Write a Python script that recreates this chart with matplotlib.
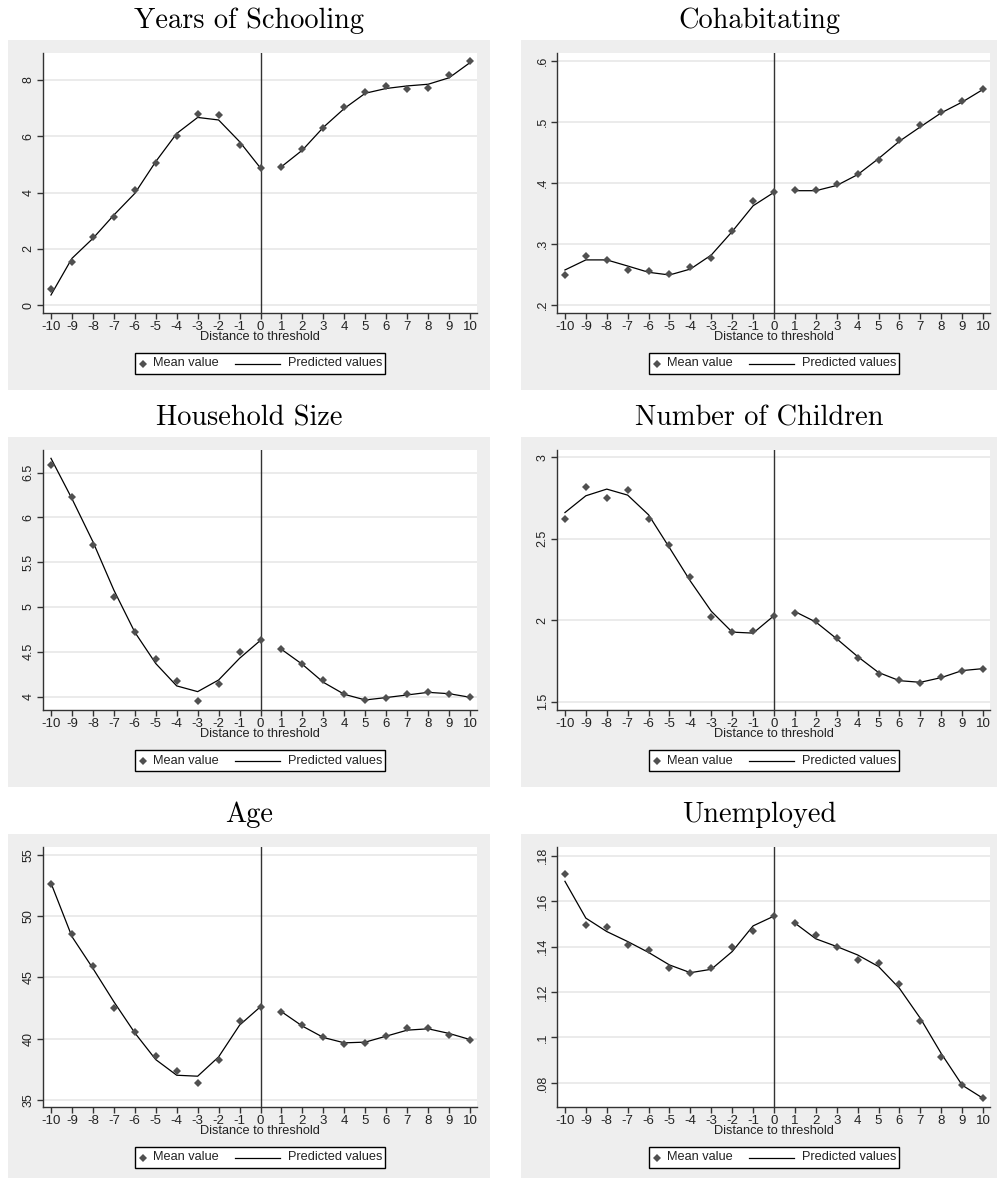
import numpy as np
import matplotlib
matplotlib.use("Agg")
import matplotlib.pyplot as plt
from matplotlib.patches import Rectangle
from matplotlib.lines import Line2D

plt.rcParams["font.family"] = ["Liberation Sans", "DejaVu Sans"]
plt.rcParams["axes.unicode_minus"] = False

# Distance to threshold
dist = list(range(-10, 11))

# Mean values (bins) and predicted values
school_mean = [0.56, 1.54, 2.41, 3.14, 4.08, 5.06, 6.00, 6.79, 6.76, 5.70, 4.87,
               4.91, 5.56, 6.28, 7.04, 7.59, 7.80, 7.68, 7.72, 8.17, 8.66]
school_pred = [0.36, 1.66, 2.37, 3.20, 3.97, 5.10, 6.10, 6.67, 6.58, 5.81, 4.87,
               4.92, 5.51, 6.32, 6.99, 7.53, 7.70, 7.79, 7.85, 8.08, 8.62]

cohab_mean = [0.249, 0.281, 0.2745, 0.2575, 0.256, 0.2515, 0.2625, 0.2767, 0.3216, 0.370, 0.3847,
              0.388, 0.388, 0.398, 0.4148, 0.437, 0.470, 0.4953, 0.5156, 0.5337, 0.5534]
cohab_pred = [0.2575, 0.274, 0.274, 0.264, 0.2537, 0.2493, 0.259, 0.282, 0.3205, 0.3627, 0.3847,
              0.3874, 0.3874, 0.396, 0.4137, 0.440, 0.4685, 0.492, 0.515, 0.5326, 0.5534]

hh_mean = [6.586, 6.228, 5.696, 5.116, 4.718, 4.424, 4.175, 3.948, 4.145, 4.502, 4.629,
           4.528, 4.368, 4.182, 4.030, 3.960, 3.990, 4.026, 4.048, 4.030, 3.993]
hh_pred = [6.66, 6.21, 5.73, 5.19, 4.72, 4.37, 4.12, 4.056, 4.186, 4.428, 4.629,
           4.528, 4.360, 4.160, 4.026, 3.963, 3.990, 4.019, 4.048, 4.033, 3.993]

kids_mean = [2.624, 2.819, 2.749, 2.800, 2.620, 2.460, 2.266, 2.022, 1.929, 1.936, 2.028,
             2.047, 1.997, 1.890, 1.771, 1.673, 1.632, 1.615, 1.652, 1.691, 1.703]
kids_pred = [2.661, 2.764, 2.805, 2.768, 2.647, 2.445, 2.240, 2.055, 1.927, 1.921, 2.028,
             2.053, 1.989, 1.886, 1.777, 1.679, 1.629, 1.619, 1.648, 1.691, 1.703]

age_mean = [52.65, 48.52, 45.94, 42.52, 40.53, 38.58, 37.33, 36.40, 38.26, 41.43, 42.61,
            42.20, 41.10, 40.17, 39.57, 39.60, 40.25, 40.85, 40.85, 40.33, 39.92]
age_pred = [52.73, 48.35, 45.75, 43.02, 40.47, 38.28, 37.00, 36.92, 38.50, 41.10, 42.61,
            42.20, 41.02, 40.09, 39.65, 39.71, 40.20, 40.69, 40.80, 40.42, 39.92]

unemp_mean = [0.1719, 0.1493, 0.1488, 0.1407, 0.1385, 0.1307, 0.1282, 0.1307, 0.1399, 0.1468, 0.1534,
              0.1503, 0.1449, 0.1400, 0.1341, 0.1329, 0.1234, 0.1072, 0.0915, 0.0793, 0.0732]
unemp_pred = [0.1687, 0.1525, 0.1466, 0.1422, 0.1374, 0.1319, 0.1285, 0.1300, 0.1378, 0.1491, 0.1534,
              0.1503, 0.1434, 0.1400, 0.1363, 0.1312, 0.1216, 0.1084, 0.0929, 0.0790, 0.0732]

titles = ["Years of Schooling", "Cohabitating", "Household Size",
          "Number of Children", "Age", "Unemployed"]

school_ticks = [0, 2, 4, 6, 8]
school_labels = ["0", "2", "4", "6", "8"]
cohab_ticks = [0.2, 0.3, 0.4, 0.5, 0.6]
cohab_labels = [".2", ".3", ".4", ".5", ".6"]
hh_ticks = [4, 4.5, 5, 5.5, 6, 6.5]
hh_labels = ["4", "4.5", "5", "5.5", "6", "6.5"]
kids_ticks = [1.5, 2, 2.5, 3]
kids_labels = ["1.5", "2", "2.5", "3"]
age_ticks = [35, 40, 45, 50, 55]
age_labels = ["35", "40", "45", "50", "55"]
unemp_ticks = [0.08, 0.10, 0.12, 0.14, 0.16, 0.18]
unemp_labels = [".08", ".1", ".12", ".14", ".16", ".18"]

panels = [
    (school_mean, school_pred, school_ticks, school_labels, (-0.28, 8.96)),
    (cohab_mean, cohab_pred, cohab_ticks, cohab_labels, (0.187, 0.613)),
    (hh_mean, hh_pred, hh_ticks, hh_labels, (3.851, 6.753)),
    (kids_mean, kids_pred, kids_ticks, kids_labels, (1.449, 3.045)),
    (age_mean, age_pred, age_ticks, age_labels, (34.4, 55.68)),
    (unemp_mean, unemp_pred, unemp_ticks, unemp_labels, (0.0694, 0.1838)),
]

W, H = 997, 1180
fig = plt.figure(figsize=(W / 100, H / 100), dpi=100)

# layout in pixels
col_box = [(8, 490), (521, 997)]
row_box = [(40, 390), (437, 787), (834, 1178)]
col_plot = [(43, 477), (557, 990)]
row_plot = [(53, 313), (450, 710), (847, 1107)]

grey = "#eeeeee"
mark_col = "#505050"
txt_col = "#222222"


def fx(px):
    return px / W


def fy(py):
    return 1 - py / H


for i, (mean, pred, yt, yl, ylim) in enumerate(panels):
    r, c = divmod(i, 2)
    bx0, bx1 = col_box[c]
    by0, by1 = row_box[r]
    fig.patches.append(Rectangle((fx(bx0), fy(by1)), (bx1 - bx0) / W, (by1 - by0) / H,
                                 transform=fig.transFigure, facecolor=grey,
                                 edgecolor="none", zorder=-10))
    px0, px1 = col_plot[c]
    py0, py1 = row_plot[r]
    ax = fig.add_axes([fx(px0), fy(py1), (px1 - px0) / W, (py1 - py0) / H])
    ax.set_facecolor("white")

    x = np.array(dist)
    m = np.array(mean)
    p = np.array(pred)
    left = x <= 0
    right = x >= 1
    ax.plot(x[left], p[left], color="black", lw=0.9, zorder=3)
    ax.plot(x[right], p[right], color="black", lw=0.9, zorder=3)
    ax.plot(x, m, linestyle="none", marker="D", ms=4.2, color=mark_col,
            markeredgewidth=0, zorder=4)
    ax.axvline(0, color="#333333", lw=1.0, zorder=2)

    ax.set_xlim(-10.38, 10.33)
    ax.set_ylim(*ylim)
    ax.set_xticks(dist)
    ax.set_xticklabels([str(d) for d in dist], fontsize=9.5, color=txt_col)
    ax.set_yticks(yt)
    ax.set_yticklabels(yl, fontsize=9, color=txt_col, rotation=90, va="center")
    ax.grid(axis="y", color="#ebebeb", lw=1.4, zorder=1)
    ax.set_axisbelow(True)
    for s in ["top", "right"]:
        ax.spines[s].set_visible(False)
    for s in ["left", "bottom"]:
        ax.spines[s].set_color("#333333")
        ax.spines[s].set_linewidth(1.0)
    ax.tick_params(axis="both", direction="out", length=4, width=1.0, color="#333333", pad=2)

    off = py0 - row_plot[0][0]
    cx = (px0 + px1) / 2
    fig.text(fx(cx), fy(337 + off), "Distance to threshold",
             ha="center", va="center", fontsize=9.2, color=txt_col)
    fig.text(fx((bx0 + bx1) / 2), fy(by0 - 19), titles[i],
             ha="center", va="center", fontsize=20.4, family="cmr10")

    # legend drawn by hand: box, marker, text, line, text
    lx0 = cx - 125
    ly = 363.5 + off
    fig.patches.append(Rectangle((fx(lx0), fy(ly + 10.5)), 250 / W, 21 / H,
                                 transform=fig.transFigure, facecolor="white",
                                 edgecolor="black", lw=1.0, zorder=5))
    fig.lines.append(Line2D([fx(lx0 + 8)], [fy(ly)], transform=fig.transFigure,
                            linestyle="none", marker="D", ms=4.2, color=mark_col,
                            markeredgewidth=0, zorder=6))
    fig.text(fx(lx0 + 18), fy(ly), "Mean value", ha="left", va="center",
             fontsize=9.2, color=txt_col, zorder=6)
    fig.lines.append(Line2D([fx(lx0 + 100), fx(lx0 + 145)], [fy(ly), fy(ly)],
                            transform=fig.transFigure, color="black", lw=0.9, zorder=6))
    fig.text(fx(lx0 + 153), fy(ly), "Predicted values", ha="left", va="center",
             fontsize=9.2, color=txt_col, zorder=6)

fig.savefig("out.png", dpi=100)
